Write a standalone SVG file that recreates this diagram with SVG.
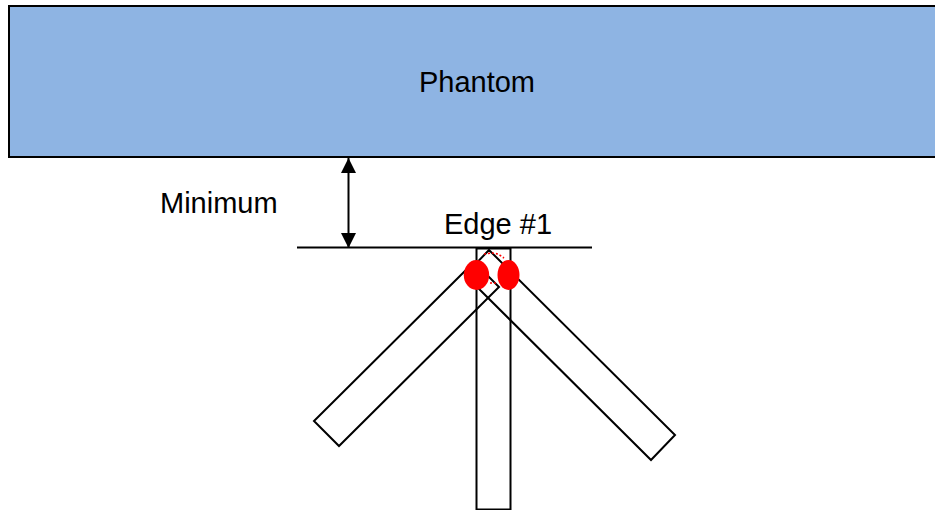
<svg xmlns="http://www.w3.org/2000/svg" width="935" height="510" viewBox="0 0 935 510">
<style>
.o{fill:none;stroke:#000;stroke-width:2}
.t{font-family:"Liberation Sans",Arial,sans-serif;font-size:29px;fill:#000}
.r{fill:#f00;stroke:none}
</style>
<defs>
<marker id="a" markerUnits="userSpaceOnUse" markerWidth="16" markerHeight="16" refX="15" refY="8" orient="auto-start-reverse"><path d="M0,0.5L15,8L0,15.5Z" fill="#000"/></marker>
</defs>
<rect width="935" height="510" fill="#fff"/>
<g id="phantom"><rect x="9" y="6" width="940" height="151" fill="#8eb4e3" stroke="#000" stroke-width="2"/><text class="t" x="477" y="92" text-anchor="middle">Phantom</text></g>
<g id="minimum-label"><text class="t" x="160" y="213">Minimum</text></g>
<g id="edge-label"><text class="t" x="498" y="234" text-anchor="middle">Edge #1</text></g>
<g id="center-bar"><rect class="o" x="476.5" y="248.5" width="34" height="261"/></g>
<g id="left-bar"><path class="o" d="M474,262L314,421L339,446L499,287Z"/></g>
<g id="right-bar"><path class="o" d="M489,250L675,435L651,460L465,275Z"/></g>
<g id="dots"><path d="M484,254L492,253L498,254L504,258M490,283L496,283" fill="none" stroke="#f00" stroke-width="1.6" stroke-dasharray="2 2"/></g>
<g id="spot-left"><ellipse class="r" cx="476.5" cy="275" rx="12.7" ry="15"/></g>
<g id="spot-right"><ellipse class="r" cx="508.5" cy="275" rx="11" ry="15"/></g>
<g id="connectors">
<line class="o" x1="297" y1="247.5" x2="592" y2="247.5"/>
<line x1="348.5" y1="158" x2="348.5" y2="248" stroke="#000" stroke-width="2" marker-start="url(#a)" marker-end="url(#a)"/>
</g>
</svg>
